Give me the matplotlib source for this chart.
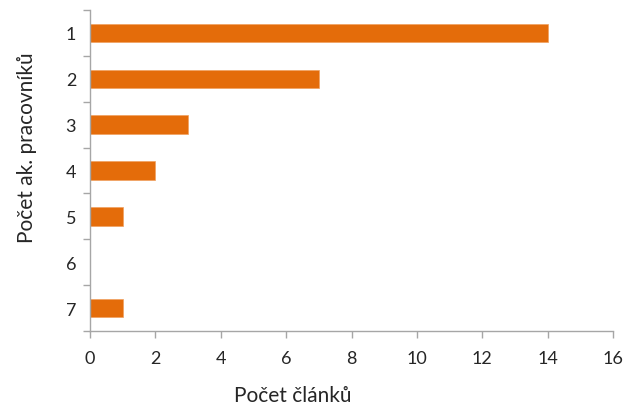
import matplotlib
matplotlib.use("Agg")
import matplotlib.pyplot as plt
import numpy as np

# Data
categories = ["1", "2", "3", "4", "5", "6", "7"]
counts = [14, 7, 3, 2, 1, 0, 1]
x_ticks = [0, 2, 4, 6, 8, 10, 12, 14, 16]

BAR_COLOR = "#E46C0A"
AXIS_COLOR = "#A6A6A6"
TEXT_COLOR = "#262626"

plt.rcParams["font.family"] = ["Lato", "DejaVu Sans"]

fig = plt.figure(figsize=(6.27, 4.06), dpi=100)
ax = fig.add_axes([90 / 627, 1 - 332 / 406, (613 - 90) / 627, (332 - 11) / 406])

y = np.arange(len(categories))
ax.barh(y, counts, height=0.4, color=BAR_COLOR, edgecolor="#F0A060", linewidth=0.5)

ax.set_xlim(0, 16)
ax.set_ylim(len(categories) - 0.5, -0.5)
ax.set_xticks(x_ticks)
ax.set_xticklabels([str(t) for t in x_ticks], fontsize=13, color=TEXT_COLOR)
ax.set_yticks(y)
ax.set_yticklabels(categories, fontsize=13, color=TEXT_COLOR)
ax.set_yticks(np.arange(-0.5, len(categories)), minor=True)

ax.tick_params(axis="y", which="major", length=0, pad=10)
ax.tick_params(axis="y", which="minor", length=5, color=AXIS_COLOR, width=1)
ax.tick_params(axis="x", which="major", length=5, color=AXIS_COLOR, width=1, pad=9)

for side in ["top", "right"]:
    ax.spines[side].set_visible(False)
for side in ["left", "bottom"]:
    ax.spines[side].set_color(AXIS_COLOR)
    ax.spines[side].set_linewidth(1)

ax.set_xlabel("Počet článků", fontsize=15, color=TEXT_COLOR, va="center")
ax.xaxis.set_label_coords((293 - 90) / (613 - 90), (332 - 396) / 321)
ax.set_ylabel("Počet ak. pracovníků", fontsize=15, color=TEXT_COLOR, va="center")
ax.yaxis.set_label_coords((27 - 90) / (613 - 90), (332 - 148) / 321)

fig.savefig("out.png", dpi=100)
plt.close(fig)
